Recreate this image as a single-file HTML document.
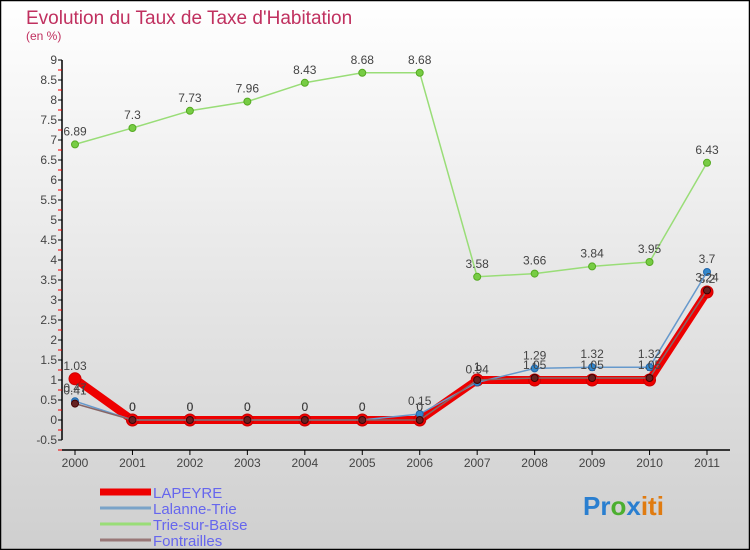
<!DOCTYPE html>
<html><head><meta charset="utf-8"><style>
html,body{margin:0;padding:0}
body{width:750px;height:550px;overflow:hidden;font-family:"Liberation Sans",sans-serif}
svg{display:block}
</style></head><body>
<svg id="chart" width="750" height="550" xmlns="http://www.w3.org/2000/svg">
<defs><linearGradient id="bg" x1="0" y1="0" x2="0" y2="1"><stop offset="0" stop-color="#ffffff"/><stop offset="1" stop-color="#cfcfcf"/></linearGradient></defs>
<rect x="0.5" y="0.5" width="749" height="549" fill="url(#bg)" stroke="#000" stroke-width="1.5"/>
<text x="26" y="24" font-size="19" fill="#c0305f">Evolution du Taux de Taxe d'Habitation</text>
<text x="26" y="40" font-size="12" fill="#c0305f">(en %)</text>
<g id="axes"></g>
<g id="series"></g>
<g id="legend"></g>
<text x="583" y="515" font-size="26" font-weight="bold"><tspan fill="#2a7fd0">Pr</tspan><tspan fill="#4caf30">o</tspan><tspan fill="#2a7fd0">x</tspan><tspan fill="#e07b10">iti</tspan></text>
</svg>
<script>
const years = [2000,2001,2002,2003,2004,2005,2006,2007,2008,2009,2010,2011];
const yTicks = [-0.5,0,0.5,1,1.5,2,2.5,3,3.5,4,4.5,5,5.5,6,6.5,7,7.5,8,8.5,9];
const lapeyre = [1.03,0,0,0,0,0,0,1,1,1,1,3.2];
const lalanne = [0.47,0,0,0,0,0,0.15,0.94,1.29,1.32,1.32,3.7];
const trie = [6.89,7.3,7.73,7.96,8.43,8.68,8.68,3.58,3.66,3.84,3.95,6.43];
const fontrailles = [0.41,0,0,0,0,0,0,1,1.05,1.05,1.05,3.24];
const seriesNames = ["LAPEYRE","Lalanne-Trie","Trie-sur-Baïse","Fontrailles"];

const NS="http://www.w3.org/2000/svg";
const xS = y => 75 + (y-2000)*(707-75)/11;
const yS = v => 420 - v*40;
function mk(tag,attrs,parent){const e=document.createElementNS(NS,tag);for(const k in attrs)e.setAttribute(k,attrs[k]);parent.appendChild(e);return e;}
const axes=document.getElementById('axes'), ser=document.getElementById('series'), leg=document.getElementById('legend');

let a=mk('line',{x1:62,y1:yS(9),x2:62,y2:yS(-0.5),stroke:'#000','stroke-width':1.5},axes);


a=mk('line',{x1:62,y1:450,x2:730,y2:450,stroke:'#000','stroke-width':1.5},axes);


yTicks.forEach(v=>{
  const y=yS(v);
  mk('line',{x1:58,y1:y,x2:62,y2:y,stroke:'#000'},axes);
  mk('line',{x1:58,y1:y+10,x2:62,y2:y+10,stroke:'#e00'},axes);
  const t=mk('text',{x:57,y:y+4,'text-anchor':'end','font-size':12,fill:'#444'},axes);
  t.textContent=String(v);
  
  
});
years.forEach(yr=>{
  const x=xS(yr);
  mk('line',{x1:x,y1:450,x2:x,y2:455,stroke:'#000'},axes);
  const t=mk('text',{x:x,y:467,'text-anchor':'middle','font-size':12,fill:'#444'},axes);
  t.textContent=String(yr);
  
  
});

function draw(data,name,color,width,r,dotFill,dotStroke){
  const g=mk('g',{},ser);
  
  
  const p=mk('polyline',{points:data.map((v,i)=>xS(years[i])+','+yS(v)).join(' '),fill:'none',stroke:color,'stroke-width':width,'stroke-linejoin':'round'},g);
  
  
  data.forEach((v,i)=>{
    const c=mk('circle',{cx:xS(years[i]),cy:yS(v),r:r,fill:dotFill,stroke:dotStroke,'stroke-width':1},g);
    
    
    const t=mk('text',{x:xS(years[i]),y:yS(v)-9,'text-anchor':'middle','font-size':12,fill:'#444'},g);
    t.textContent=String(v);
    
    
  });
}
draw(trie,'trie-sur-baise','#99dd77',1.5,3.5,'#77cc44','#55aa22');
draw(lapeyre,'lapeyre','#ee0000',8,6,'#ee0000','#cc0000');
draw(lalanne,'lalanne-trie','#6699cc',1.5,3.5,'#3388cc','#2266aa');
draw(fontrailles,'fontrailles','#886666',1.5,3.5,'#662222','#440000');

const legColors=['#ee0000','#7aa3c8','#99dd77','#997777'];
const legW=[7,3,3,3];
seriesNames.forEach((n,i)=>{
  const y=492+i*16;
  const l=mk('line',{x1:100,y1:y,x2:151,y2:y,stroke:legColors[i],'stroke-width':legW[i]},leg);
  
  
  const t=mk('text',{x:153,y:y+6,'font-size':15,fill:'#6666ee'},leg);
  t.textContent=n;
  
  
});
</script>
</body></html>
